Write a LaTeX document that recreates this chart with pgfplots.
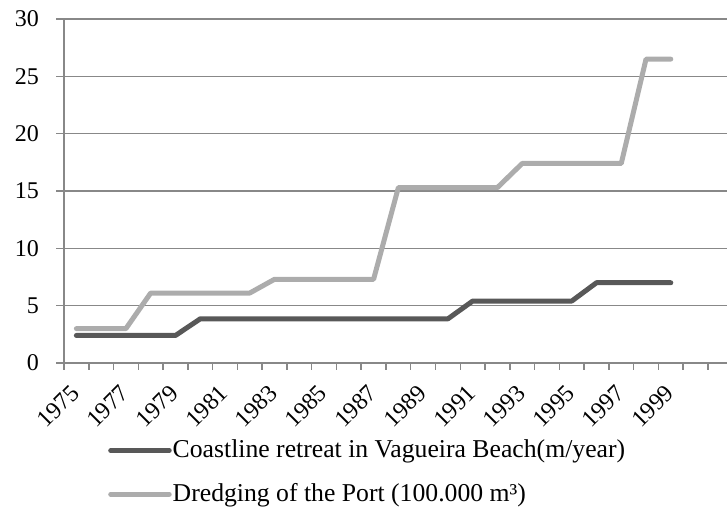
\documentclass[border=0pt]{standalone}
\usepackage{pgfplots}
\pgfplotsset{compat=1.18}
\usepackage{fontspec}
\setmainfont{Liberation Serif}
\definecolor{darkline}{RGB}{88,88,88}
\definecolor{lightline}{RGB}{172,172,172}
\definecolor{gridc}{RGB}{136,136,136}
\begin{document}
\fontsize{24}{29}\selectfont
\begin{tikzpicture}[font=\fontsize{24}{29}\selectfont]
\useasboundingbox (0pt,0pt) rectangle (727pt,513pt);
\begin{axis}[
  at={(64pt,150pt)}, anchor=south west,
  scale only axis, width=663pt, height=344pt,
  xmin=1974.5, xmax=2001.27, ymin=0, ymax=30,
  axis x line*=bottom, axis y line*=left,
  axis line style={gridc, line width=1.5pt},
  ymajorgrids, grid style={gridc, line width=1.5pt},
  ytick={0,5,...,30},
  xtick={1975,1977,...,1999},
  minor xtick={1974.5,1975.5,...,2000.5},
  tick align=outside,
  major tick length=8pt, minor tick length=7pt,
  major x tick style={draw=none},
  tick style={gridc, line width=1.5pt},
  minor x tick style={gridc, line width=1.5pt},
  /pgf/number format/assume math mode=true,
  xticklabel={\pgfmathprintnumber[1000 sep={}]{\tick}},
  yticklabel style={anchor=east, inner sep=0pt, xshift=-17pt},
  xticklabel style={yshift=-18pt, xshift=-1pt, rotate=45, anchor=east, inner sep=0pt, font=\fontsize{24}{29}\selectfont},
  legend style={at={(axis description cs:0.0664,-0.22)}, anchor=north west,
    draw=none, fill=none, inner sep=0pt, row sep=20pt,
    nodes={inner sep=1pt}, font=\fontsize{25.7}{30}\selectfont},
  legend cell align=left,
  legend image code/.code={\draw[#1,line width=5pt,line cap=round] (1.5pt,0pt) -- (60pt,0pt);},
]
\addplot[darkline, line width=5pt, line cap=round, line join=round] coordinates {
 (1975,2.4)(1976,2.4)(1977,2.4)(1978,2.4)(1979,2.4)
 (1980,3.85)(1981,3.85)(1982,3.85)(1983,3.85)(1984,3.85)(1985,3.85)(1986,3.85)(1987,3.85)(1988,3.85)(1989,3.85)(1990,3.85)
 (1991,5.4)(1992,5.4)(1993,5.4)(1994,5.4)(1995,5.4)
 (1996,7.0)(1997,7.0)(1998,7.0)(1999,7.0)
};
\addlegendentry{Coastline retreat in Vagueira Beach(m/year)}
\addplot[lightline, line width=5pt, line cap=round, line join=round] coordinates {
 (1975,3.0)(1976,3.0)(1977,3.0)
 (1978,6.1)(1979,6.1)(1980,6.1)(1981,6.1)(1982,6.1)
 (1983,7.3)(1984,7.3)(1985,7.3)(1986,7.3)(1987,7.3)
 (1988,15.3)(1989,15.3)(1990,15.3)(1991,15.3)(1992,15.3)
 (1993,17.4)(1994,17.4)(1995,17.4)(1996,17.4)(1997,17.4)
 (1998,26.5)(1999,26.5)
};
\addlegendentry{Dredging of the Port (100.000 m³)}
\end{axis}
\end{tikzpicture}
\end{document}
